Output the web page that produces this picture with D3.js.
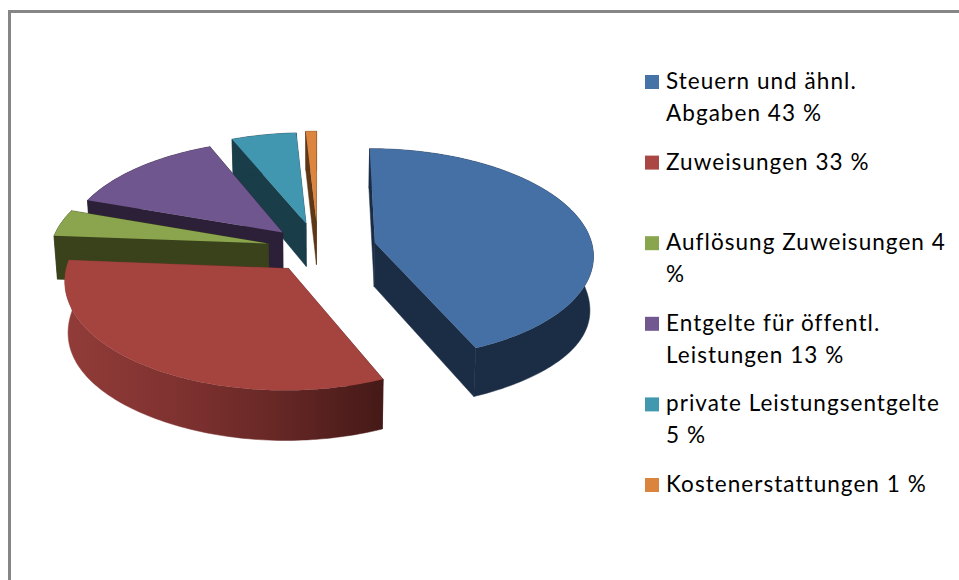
<!DOCTYPE html>
<html><head><meta charset="utf-8">
<script src="https://cdnjs.cloudflare.com/ajax/libs/d3/7.8.5/d3.min.js"></script>
<style>html,body{margin:0;padding:0;background:#fff;overflow:hidden}svg{display:block}
text{font-family:Lato,"Open Sans",sans-serif;font-size:22.5px;letter-spacing:1.05px;fill:#000}</style>
</head><body><svg id="c" width="959" height="580"></svg>
<script>
const categories = ["Steuern und ähnl. Abgaben","Zuweisungen","Auflösung Zuweisungen","Entgelte für öffentl. Leistungen","private Leistungsentgelte","Kostenerstattungen"];
const values = [43.5,32.7,4.1,13.4,5.4,.9];
const legendFirstLines = ["Steuern und ähnl.","Zuweisungen 33 %","Auflösung Zuweisungen 4","Entgelte für öffentl.","private Leistungsentgelte","Kostenerstattungen 1 %"];
const legendSecondLines = ["Abgaben 43 %","","%","Leistungen 13 %","5 %",""];
const topColors = ["#4570a5","#a5433f","#8ba54f","#70568e","#4196b0","#dc853f"];
const wallColors = ["#1b2d45","url(#redWall)","#3a421c","#2c2038","#1a3d4a","#5e3716"];
const legendColors = ["#4673a7","#aa4643","#89a54e","#71588f","#4198af","#db843d"];
const explode = [.268,.228,.234,.226,.25,.262];
const wallBump = [10,6,0,0,0,0];
const drawOrder = [5,4,3,2,1,0];

const K=.103, H=44, BOTTOM_SHRINK=.987;
const xS=d3.scaleLinear().domain([-1,1]).range([318-218,318+218]);
const yS=d3.scaleLinear().domain([-1,1]).range([248.5-105,248.5+105]);
const proj=(u,v,bottom,extra=0)=>{const w=1-K*v;
  return bottom?[xS(BOTTOM_SHRINK*u/w),yS(v/w)+H/w+extra]:[xS(u/w),yS(v/w)];};

const svg=d3.select("#c");
const g0=svg.append("defs").append("linearGradient").attr("id","redWall").attr("gradientUnits","userSpaceOnUse")
  .attr("x1",64).attr("x2",385).attr("y1",0).attr("y2",0);
[[0,"#923c39"],[.35,"#7f3230"],[.65,"#682826"],[1,"#441917"]].forEach(s=>g0.append("stop").attr("offset",s[0]).attr("stop-color",s[1]));

// frame
svg.append("path").attr("d","M9.5,582V11.5H961").attr("fill","none").attr("stroke","#868686").attr("stroke-width",3);

const arcs=d3.pie().sort(null).value(d=>d)(values);
const line=d3.line();
const chart=svg.append("g");
drawOrder.forEach(i=>{
  const a=arcs[i], mid=(a.startAngle+a.endAngle)/2, e=explode[i];
  const ou=e*Math.sin(mid), ov=-e*Math.cos(mid);
  const n=Math.max(4,Math.ceil((a.endAngle-a.startAngle)/.02));
  const rim=d3.range(n+1).map(j=>{const t=a.startAngle+(a.endAngle-a.startAngle)*j/n;
    return [ou+Math.sin(t),ov-Math.cos(t),wallBump[i]*Math.pow(Math.sin(t),4)];});
  const apex=[ou,ov,0];
  const top=p=>proj(p[0],p[1],false), bot=p=>proj(p[0],p[1],true,p[2]);
  const g=chart.append("g");
  const wall=(pts)=>g.append("path").attr("d",line(pts)+"Z").attr("fill",wallColors[i]).attr("stroke",wallColors[i]).attr("stroke-width",.5);
  wall([top(apex),top(rim[0]),bot(rim[0]),bot(apex)]);
  wall([top(apex),top(rim[n]),bot(rim[n]),bot(apex)]);
  wall(rim.map(top).concat(rim.slice().reverse().map(bot)));
  g.append("path").attr("d",line([top(apex)].concat(rim.map(top)))+"Z").attr("fill",topColors[i]);
});

// legend
const rowY=d3.scalePoint().domain(categories).range([89,492]);
const lg=svg.selectAll("g.l").data(categories).join("g").attr("class","l").attr("transform",d=>`translate(0,${rowY(d)})`);
lg.append("rect").attr("x",645).attr("y",-14).attr("width",14).attr("height",14).attr("fill",(d,i)=>legendColors[i]);
lg.append("text").attr("x",666).text((d,i)=>legendFirstLines[i]);
lg.append("text").attr("x",666).attr("y",32).text((d,i)=>legendSecondLines[i]);
</script></body></html>
